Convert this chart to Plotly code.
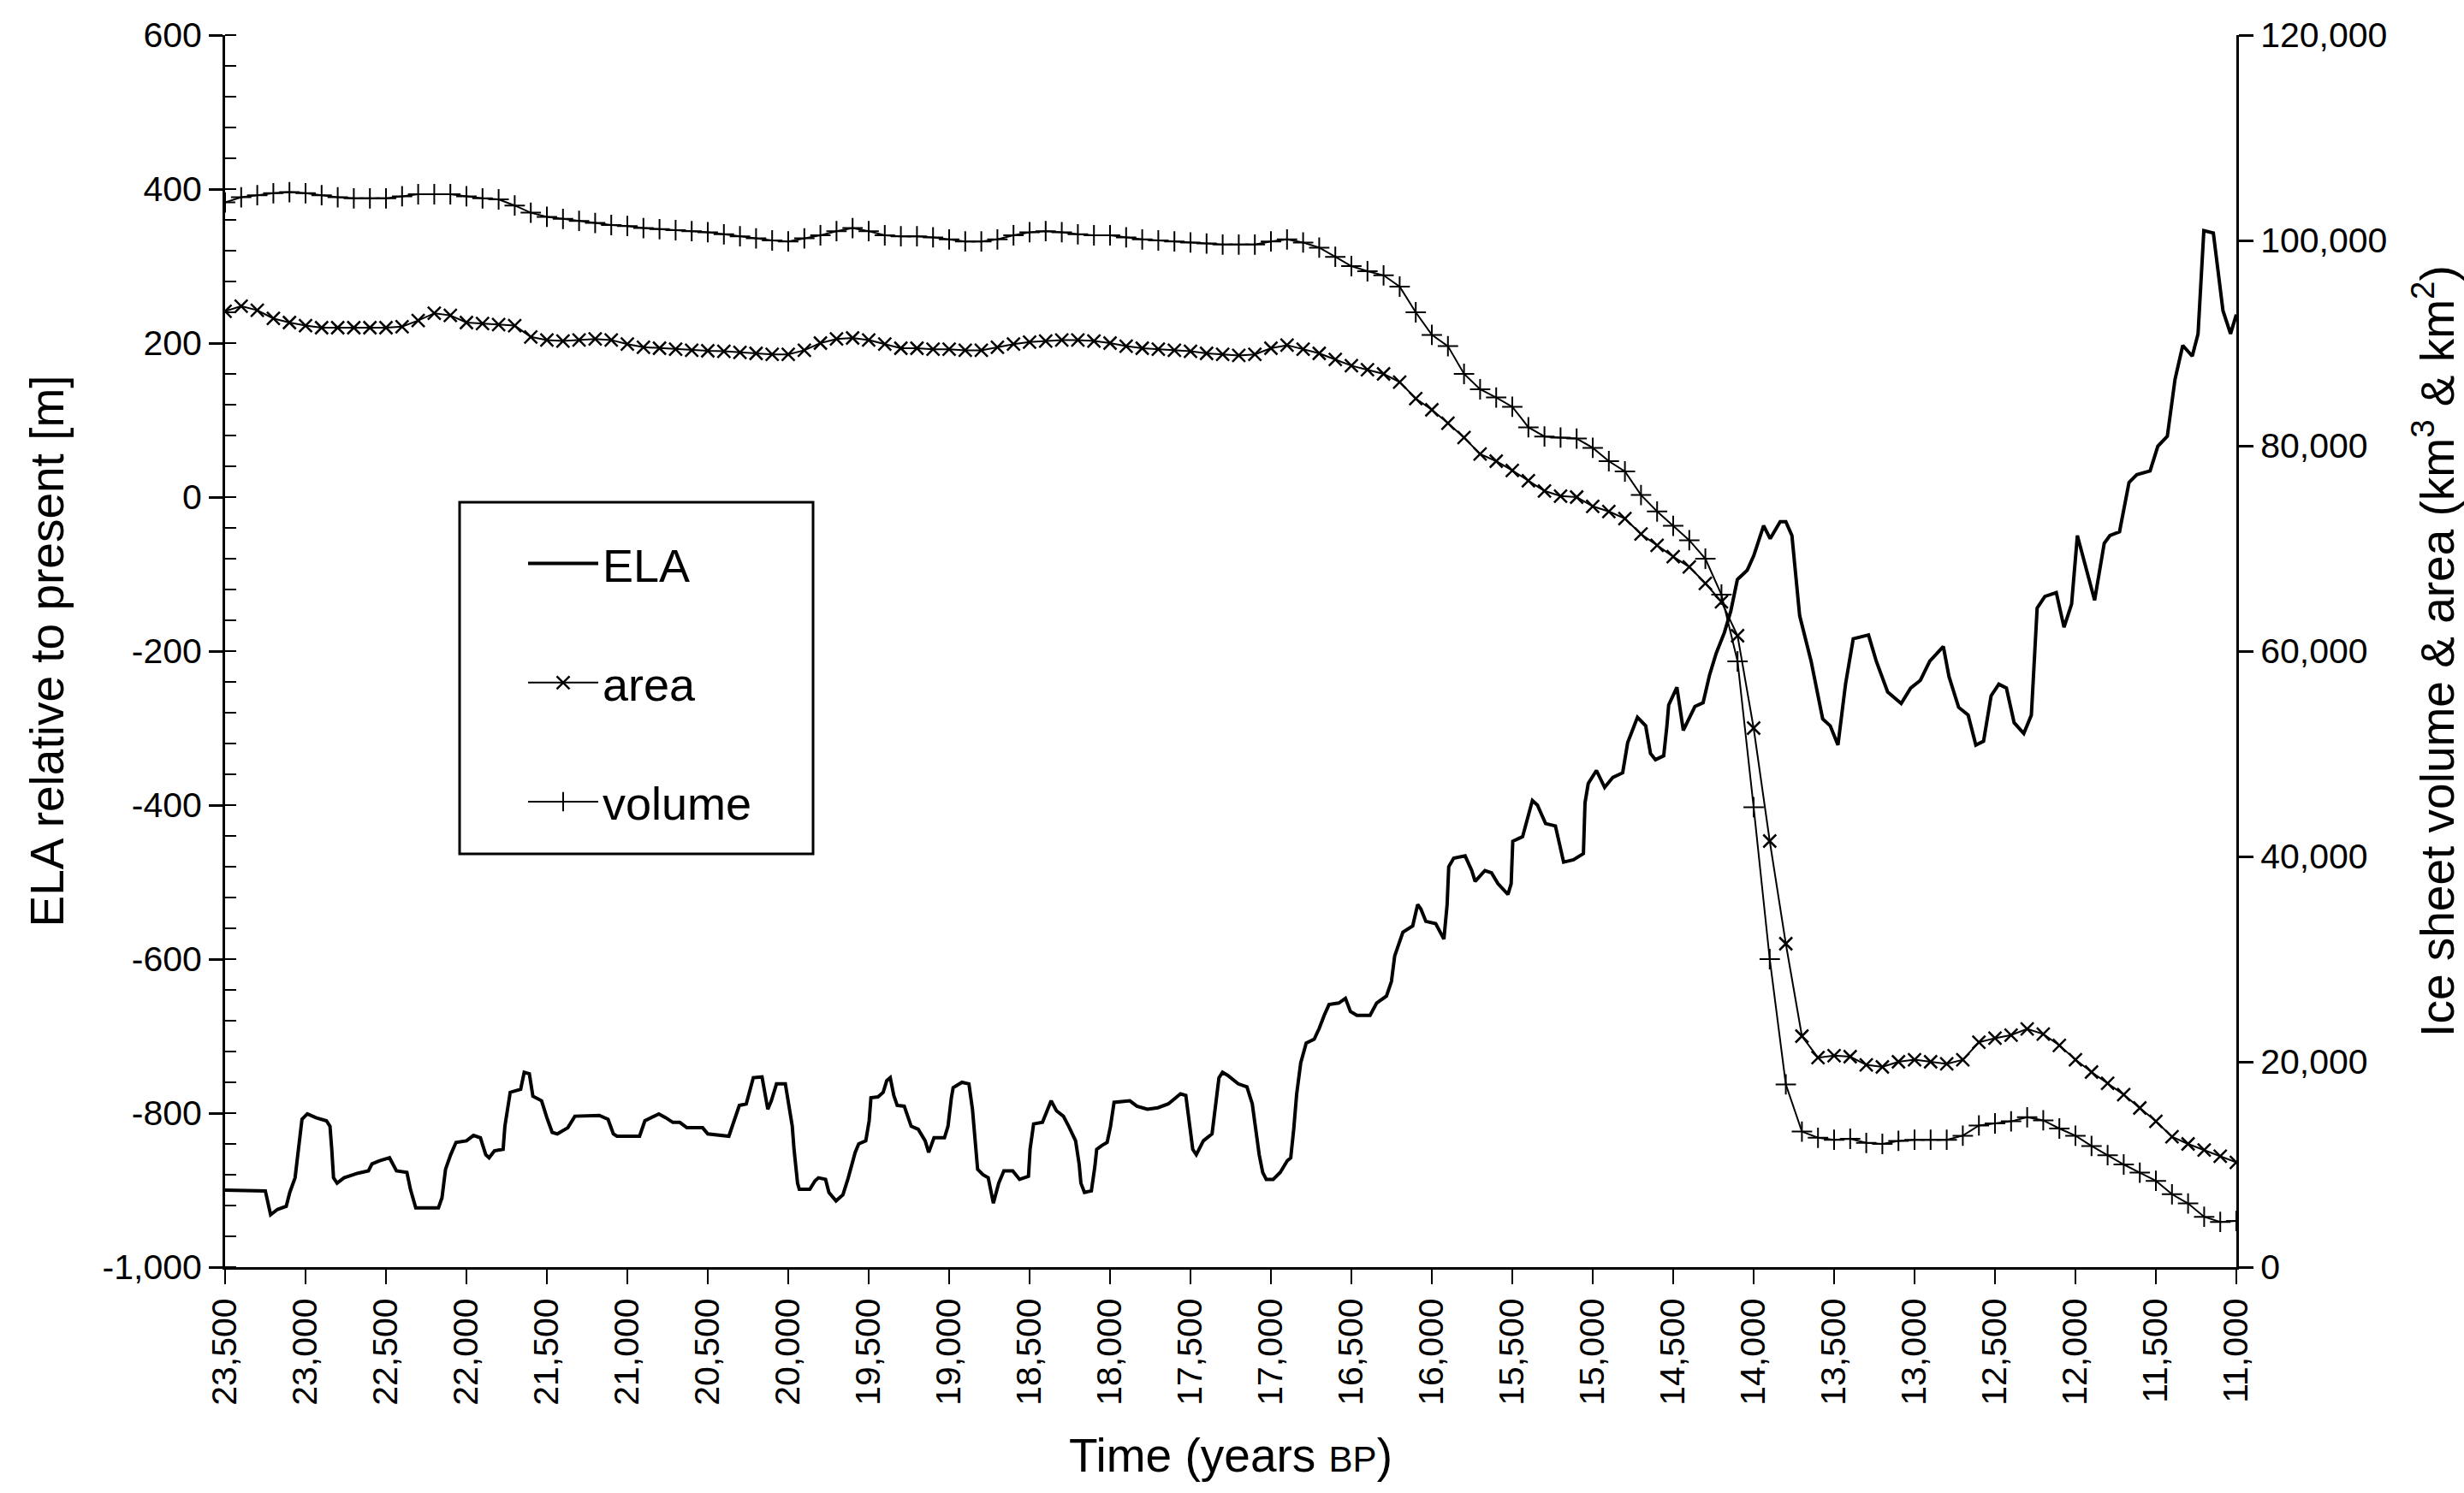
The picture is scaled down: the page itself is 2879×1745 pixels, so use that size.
import plotly.graph_objects as go

# ---------------- data ----------------
ela_years = [23500, 23250, 23217, 23174, 23120, 23098, 23065, 23043, 23022, 22989, 22935, 22870, 22848, 22837,
             22826, 22804, 22761, 22674, 22609, 22587, 22543, 22478, 22456, 22435, 22370, 22348, 22315, 22174,
             22152, 22130, 22098, 22065, 22000, 21956, 21913, 21880, 21859, 21826, 21772, 21761, 21728, 21663,
             21641, 21609, 21587, 21533, 21500, 21467, 21435, 21370, 21326, 21174, 21120, 21087, 21065, 20924,
             20891, 20804, 20761, 20717, 20674, 20630, 20532, 20500, 20369, 20337, 20304, 20261, 20217, 20163,
             20138, 20127, 20105, 20073, 20018, 19997, 19975, 19964, 19942, 19931, 19866, 19834, 19812, 19768,
             19747, 19703, 19660, 19627, 19584, 19562, 19518, 19497, 19486, 19442, 19410, 19388, 19366, 19344,
             19323, 19279, 19257, 19236, 19192, 19149, 19127, 19094, 19029, 19007, 18986, 18975, 18920, 18877,
             18855, 18844, 18823, 18790, 18757, 18725, 18692, 18660, 18605, 18562, 18507, 18497, 18475, 18420,
             18388, 18366, 18333, 18290, 18257, 18214, 18192, 18181, 18159, 18116, 18094, 18083, 18051, 18018,
             17997, 17975, 17877, 17833, 17768, 17703, 17638, 17594, 17562, 17529, 17507, 17486, 17464, 17420,
             17366, 17344, 17323, 17301, 17268, 17203, 17149, 17116, 17073, 17051, 17029, 16986, 16942, 16899,
             16877, 16858, 16840, 16815, 16781, 16731, 16700, 16669, 16639, 16578, 16537, 16506, 16466, 16384,
             16343, 16282, 16251, 16231, 16200, 16180, 16119, 16088, 16068, 16037, 15976, 15925, 15905, 15895,
             15864, 15793, 15752, 15731, 15670, 15629, 15589, 15527, 15507, 15497, 15436, 15405, 15375, 15344,
             15293, 15232, 15201, 15181, 15120, 15058, 15048, 15028, 14977, 14926, 14875, 14814, 14783, 14722,
             14671, 14641, 14610, 14559, 14539, 14528, 14477, 14437, 14386, 14365, 14314, 14274, 14233, 14182,
             14142, 14101, 14040, 13999, 13938, 13897, 13835, 13800, 13762, 13714, 13643, 13571, 13524, 13476,
             13429, 13381, 13286, 13238, 13167, 13083, 13024, 12964, 12905, 12821, 12786, 12726, 12667, 12619,
             12571, 12524, 12476, 12429, 12381, 12321, 12274, 12238, 12190, 12119, 12071, 12024, 11988, 11929,
             11881, 11821, 11786, 11726, 11667, 11619, 11536, 11488, 11429, 11381, 11333, 11274, 11238, 11202,
             11143, 11083, 11036, 11000]
ela_values = [-900, -901, -932, -925, -921, -903, -884, -847, -808, -801, -806, -810, -817, -847,
              -884, -891, -884, -878, -875, -866, -862, -858, -866, -875, -877, -899, -923, -923,
              -910, -873, -854, -838, -836, -829, -832, -854, -858, -849, -847, -817, -773, -769,
              -747, -749, -778, -784, -806, -825, -827, -819, -804, -803, -808, -827, -830, -830,
              -810, -801, -806, -812, -812, -819, -819, -827, -830, -810, -790, -788, -754, -753,
              -780, -795, -784, -762, -762, -788, -817, -847, -891, -899, -899, -888, -884, -886,
              -903, -914, -906, -884, -851, -840, -836, -810, -780, -779, -773, -758, -754, -777,
              -790, -791, -803, -817, -821, -836, -851, -832, -832, -817, -780, -767, -760, -762,
              -795, -825, -873, -880, -884, -917, -891, -875, -875, -886, -882, -847, -814, -812,
              -795, -784, -797, -804, -817, -836, -866, -891, -903, -901, -869, -847, -842, -838,
              -817, -786, -784, -791, -795, -793, -788, -780, -775, -777, -814, -847, -854, -836,
              -827, -791, -754, -747, -751, -762, -766, -788, -854, -877, -886, -886, -877, -862,
              -858, -820, -775, -735, -709, -704, -690, -673, -659, -657, -651, -668, -673, -673,
              -657, -648, -629, -596, -576, -565, -557, -529, -535, -551, -554, -574, -529, -480,
              -469, -466, -485, -499, -485, -488, -502, -516, -502, -447, -441, -419, -394, -400,
              -424, -427, -458, -474, -471, -463, -397, -372, -355, -377, -364, -358, -319, -286,
              -297, -333, -341, -336, -297, -270, -247, -303, -281, -272, -267, -231, -203, -176,
              -148, -107, -95, -76, -37, -54, -32, -32, -50, -154, -213, -288, -297, -322,
              -243, -184, -179, -213, -253, -268, -248, -238, -213, -194, -233, -273, -283, -322,
              -317, -258, -243, -248, -293, -307, -283, -144, -129, -124, -169, -139, -50, -95,
              -134, -60, -50, -45, 19, 29, 34, 66, 79, 153, 197, 183, 212, 346,
              343, 242, 212, 237]

ice_years = list(range(23500, 10999, -100))
area_values = [93100, 93600, 93200, 92400, 92000, 91700, 91500, 91500, 91500, 91500, 91500, 91600, 92200, 92900,
               92700, 92000, 91900, 91800, 91700, 90600, 90300, 90200, 90300, 90400, 90300, 89900, 89600, 89500,
               89400, 89300, 89250, 89200, 89100, 89000, 88900, 88900, 89300, 90000, 90400, 90500, 90300, 89900,
               89500, 89500, 89400, 89400, 89300, 89300, 89600, 89900, 90100, 90200, 90300, 90300, 90200, 90000,
               89700, 89500, 89400, 89300, 89200, 89000, 88900, 88800, 88900, 89500, 89800, 89400, 89000, 88400,
               87800, 87400, 87000, 86200, 84600, 83500, 82200, 80800, 79200, 78500, 77600, 76600, 75600, 75100,
               75000, 74100, 73600, 72900, 71400, 70300, 69200, 68200, 66600, 64800, 61500, 52500, 41500, 31500,
               22500, 20400, 20600, 20500, 19700, 19500, 20000, 20200, 20000, 19800, 20200, 21900, 22300, 22600,
               23200, 22700, 21600, 20200, 19000, 17900, 16800, 15500, 14200, 12700, 12000, 11400, 10800, 10200]
volume_values = [103700, 104200, 104400, 104600, 104700, 104600, 104400, 104200, 104100, 104100, 104100, 104300,
                 104500, 104500, 104500, 104300, 104100, 104000, 103400, 102700, 102300, 102100, 101900, 101700,
                 101500, 101400, 101200, 101100, 101000, 100900, 100800, 100600, 100400, 100200, 100000, 99900,
                 100200, 100500, 100900, 101200, 100900, 100500, 100400, 100400, 100300, 100100, 99900, 99900,
                 100100, 100500, 100800, 100900, 100800, 100600, 100500, 100500, 100300, 100100, 100000, 99900,
                 99800, 99700, 99600, 99600, 99600, 99900, 100100, 99800, 99300, 98400, 97500, 97000, 96600,
                 95500, 93000, 90800, 89700, 87000, 85500, 84700, 83800, 81800, 80900, 80800, 80700, 79800,
                 78500, 77500, 75200, 73600, 72200, 70800, 69000, 65500, 59000, 44800, 30000, 17800, 13200,
                 12600, 12400, 12500, 12100, 12000, 12300, 12400, 12400, 12400, 12800, 13800, 14000, 14200,
                 14600, 14300, 13500, 12800, 11800, 10900, 10000, 9200, 8400, 7100, 6200, 4900, 4400, 4500]

x_tick_years = list(range(23500, 10999, -500))
left_tick_values = [-1000, -800, -600, -400, -200, 0, 200, 400, 600]
left_tick_labels = ["-1,000", "-800", "-600", "-400", "-200", "0", "200", "400", "600"]
right_tick_values = [0, 20000, 40000, 60000, 80000, 100000, 120000]

# ---------------- figure ----------------
FONT = "Liberation Sans, Arial, Helvetica, sans-serif"
W, H = 2879, 1745
ML, MR, MT, MB = 263, 266, 41, 264
PW, PH = W - ML - MR, H - MT - MB

fig = go.Figure()
fig.add_trace(go.Scatter(x=ela_years, y=ela_values, name="ELA", mode="lines",
                         line=dict(color="black", width=4), yaxis="y", legendgroup="a"))
fig.add_trace(go.Scatter(x=ice_years, y=area_values, name="area", mode="lines+markers",
                         line=dict(color="black", width=2),
                         marker=dict(symbol="x-thin", size=15, line=dict(color="black", width=2.5)),
                         yaxis="y2", legendgroup="b"))
fig.add_trace(go.Scatter(x=ice_years, y=volume_values, name="volume", mode="lines+markers",
                         line=dict(color="black", width=2),
                         marker=dict(symbol="cross-thin", size=17, line=dict(color="black", width=2)),
                         yaxis="y2", legendgroup="c"))

tickfont = dict(family=FONT, size=41, color="black")
titlefont = dict(family=FONT, size=55, color="black")

fig.update_layout(
    width=W, height=H,
    margin=dict(l=ML, r=MR, t=MT, b=MB, autoexpand=False),
    paper_bgcolor="white", plot_bgcolor="white",
    font=dict(family=FONT, color="black"),
    xaxis=dict(
        range=[23500, 11000], tickvals=x_tick_years, tickformat=",d", tickangle=-90,
        ticks="outside", ticklen=17, tickwidth=2, tickcolor="black",
        showline=True, linewidth=3, linecolor="black", showgrid=False, zeroline=False,
        tickfont=tickfont, ticklabelstandoff=0, automargin=False,
        title=dict(text="Time (years <span style='font-size:42px'>BP</span>)", font=titlefont, standoff=40),
    ),
    yaxis=dict(
        range=[-1000, 600], tickvals=left_tick_values, ticktext=left_tick_labels,
        ticks="outside", ticklen=16, tickwidth=3, tickcolor="black",
        minor=dict(dtick=40, tick0=-1000, ticks="inside", ticklen=13, tickwidth=2, tickcolor="black", showgrid=False),
        showline=True, linewidth=3, linecolor="black", showgrid=False, zeroline=False,
        tickfont=tickfont, automargin=False,
        title=dict(text="ELA relative to present [m]", font=titlefont, standoff=28),
    ),
    yaxis2=dict(
        range=[0, 120000], tickvals=right_tick_values, tickformat=",d", overlaying="y", side="right",
        anchor="x",
        ticks="outside", ticklen=17, tickwidth=3, tickcolor="black",
        showline=True, linewidth=3, linecolor="black", showgrid=False, zeroline=False,
        tickfont=tickfont, automargin=False,
        title=dict(text="Ice sheet volume & area (km<sup>3</sup> & km<sup>2</sup>)", font=titlefont, standoff=42),
    ),
    yaxis3=dict(
        range=[-1000, 600], tickvals=left_tick_values, overlaying="y", side="left", anchor="x",
        ticks="inside", ticklen=17, tickwidth=3, tickcolor="black", showticklabels=False,
        showline=False, showgrid=False, zeroline=False,
    ),
    yaxis4=dict(
        range=[0, 120000], tickvals=right_tick_values, overlaying="y", side="right", anchor="x",
        ticks="inside", ticklen=16, tickwidth=3, tickcolor="black", showticklabels=False,
        showline=False, showgrid=False, zeroline=False,
    ),
    legend=dict(
        x=(612 - ML) / PW, y=(H - MB - 617) / PH, xanchor="left", yanchor="top",
        bgcolor="rgba(0,0,0,0)", borderwidth=0, font=dict(family=FONT, size=54, color="black"),
        traceorder="grouped", tracegroupgap=66, itemwidth=82,
    ),
    showlegend=True,
    shapes=[dict(type="rect", xref="paper", yref="paper",
                 x0=(537 - ML) / PW, x1=(950 - ML) / PW,
                 y0=(H - MB - 998) / PH, y1=(H - MB - 587) / PH,
                 line=dict(color="black", width=3), fillcolor="rgba(0,0,0,0)", layer="above")],
)

fig.write_html("out.html")
